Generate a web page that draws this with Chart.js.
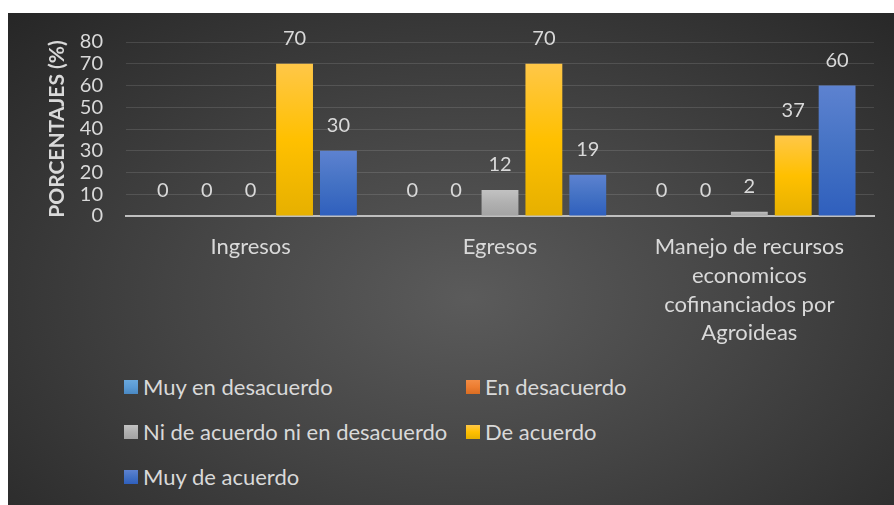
<!DOCTYPE html>
<html>
<head>
<meta charset="utf-8">
<script src="https://cdn.jsdelivr.net/npm/chart.js@4/dist/chart.umd.min.js"></script>
<style>
  html,body{margin:0;padding:0;background:#fff;width:894px;height:505px;overflow:hidden;}
  #wrap{position:absolute;left:8px;top:13px;width:886px;height:492px;
    background:radial-gradient(ellipse farthest-corner at 52% 58%, #5b5b5b 0%, #444 45%, #262626 100%);}
  #c{position:absolute;left:0;top:0;}
  #legend{position:absolute;left:116px;top:351px;display:grid;grid-template-columns:342px 200px;grid-auto-rows:45px;
    font-family:Lato, sans-serif;font-size:22px;color:#d9d9d9;}
  .item{display:flex;align-items:center;white-space:nowrap;}
  .box{width:14px;height:14px;margin-right:5px;flex:none;}
</style>
</head>
<body>
<div id="wrap">
  <canvas id="c" width="886" height="345"></canvas>
  <div id="legend"></div>
</div>
<script>
const categories = ["Ingresos", "Egresos", ["Manejo de recursos", "economicos", "cofinanciados por", "Agroideas"]];
const seriesNames = ["Muy en desacuerdo", "En desacuerdo", "Ni de acuerdo ni en desacuerdo", "De acuerdo", "Muy de acuerdo"];
const muyEnDesacuerdo = [0, 0, 0];
const enDesacuerdo = [0, 0, 0];
const niDeAcuerdo = [0, 12, 2];
const deAcuerdo = [70, 70, 37];
const muyDeAcuerdo = [30, 19, 60];
const yTicks = [0, 10, 20, 30, 40, 50, 60, 70, 80];

const seriesData = [muyEnDesacuerdo, enDesacuerdo, niDeAcuerdo, deAcuerdo, muyDeAcuerdo];
const gradStops = [
  ["#6aa8dd", "#5b9bd5", "#4a88c2"],
  ["#f28c45", "#ed7d31", "#d96d22"],
  ["#c2c2c2", "#b0b0b0", "#a3a3a3"],
  ["#ffc748", "#ffc000", "#e6b000"],
  ["#5d82d0", "#4472c4", "#2f5fbd"]
];
const FONT = "Lato, sans-serif";

function barColor(i){
  return function(c){
    const base = gradStops[i][1];
    const ch = c.chart;
    if(!ch.chartArea || c.raw === undefined) return base;
    const y = ch.scales.y;
    const top = y.getPixelForValue(c.raw);
    const bottom = y.getPixelForValue(0);
    if(bottom - top < 1) return base;
    const g = ch.ctx.createLinearGradient(0, top, 0, bottom);
    g.addColorStop(0, gradStops[i][0]);
    g.addColorStop(0.5, gradStops[i][1]);
    g.addColorStop(1, gradStops[i][2]);
    return g;
  };
}

const valueLabels = {
  id: "valueLabels",
  afterDatasetsDraw(chart){
    const ctx = chart.ctx;
    ctx.save();
    ctx.font = "20px " + FONT;
    ctx.fillStyle = "#d9d9d9";
    ctx.textAlign = "center";
    ctx.textBaseline = "middle";
    chart.data.datasets.forEach((ds, i) => {
      const meta = chart.getDatasetMeta(i);
      meta.data.forEach((bar, j) => {
        ctx.fillText(String(ds.data[j]), bar.x, bar.y - 25);
      });
    });
    ctx.restore();
  }
};

new Chart(document.getElementById("c"), {
  type: "bar",
  data: {
    labels: categories,
    datasets: seriesNames.map((n, i) => ({
      label: n,
      data: seriesData[i],
      backgroundColor: barColor(i),
      borderWidth: 0,
      barPercentage: 0.84,
      categoryPercentage: 0.88
    }))
  },
  options: {
    responsive: false,
    animation: false,
    devicePixelRatio: 1,
    layout: { padding: { top: 29, right: 20, left: 0, bottom: 0 } },
    plugins: { legend: { display: false }, tooltip: { enabled: false } },
    scales: {
      x: {
        grid: { display: false, drawTicks: false },
        border: { display: true, color: "#bfbfbf", width: 2 },
        ticks: { color: "#d9d9d9", font: { family: FONT, size: 22, lineHeight: 1.3 }, padding: 17, maxRotation: 0, minRotation: 0, autoSkip: false },
        afterFit(s){ s.height = 142; }
      },
      y: {
        min: 0, max: 80,
        afterBuildTicks(s){ s.ticks = yTicks.map(v => ({ value: v })); },
        grid: { color: "rgba(255,255,255,0.12)", lineWidth: 1, drawTicks: false },
        border: { display: false },
        ticks: { color: "#d9d9d9", font: { family: FONT, size: 20 }, padding: 23, autoSkip: false },
        title: { display: true, text: "PORCENTAJES (%)", color: "#d9d9d9", font: { family: FONT, size: 21, weight: "bold" }, padding: { top: 37, bottom: 0 } },
        afterFit(s){ s.width = 118; s.paddingTop = 0; s.paddingBottom = 0; }
      }
    }
  },
  plugins: [valueLabels]
});

const legend = document.getElementById("legend");
seriesNames.forEach((n, i) => {
  const it = document.createElement("div");
  it.className = "item";
  const b = document.createElement("span");
  b.className = "box";
  b.style.background = "linear-gradient(" + gradStops[i][0] + "," + gradStops[i][1] + "," + gradStops[i][2] + ")";
  const t = document.createElement("span");
  t.textContent = n;
  it.appendChild(b); it.appendChild(t);
  legend.appendChild(it);
});
</script>
</body>
</html>
